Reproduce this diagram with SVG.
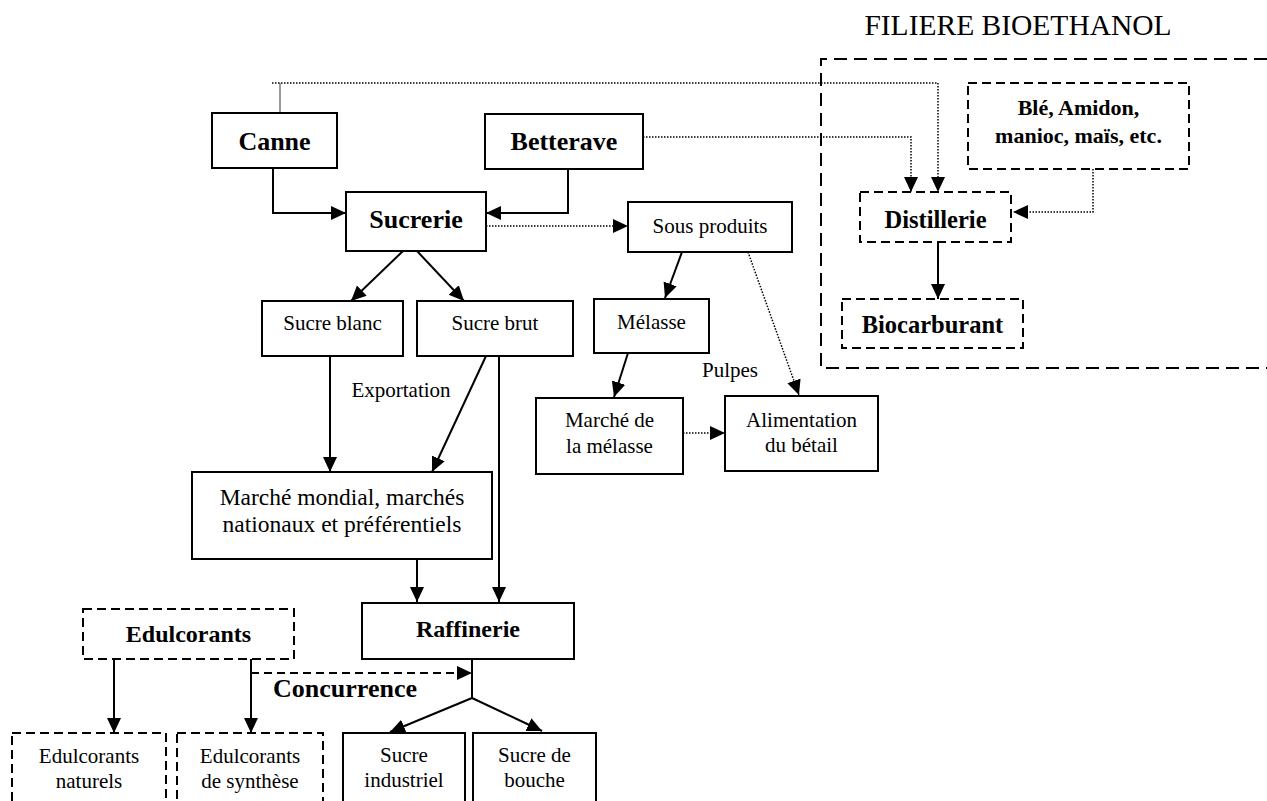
<svg xmlns="http://www.w3.org/2000/svg" width="1267" height="801" viewBox="0 0 1267 801">
<style>
.box{fill:#fff;stroke:#000;stroke-width:2}
.dbox{fill:#fff;stroke:#000;stroke-width:2;stroke-dasharray:9 5}
.t{font-family:"Liberation Serif","Times New Roman",serif;font-size:21px;fill:#000;text-anchor:middle}
.b{font-weight:bold}
.ln{fill:none;stroke:#000;stroke-width:2}
.dot{fill:none;stroke:#000;stroke-width:1.5;stroke-dasharray:1.5 1.5}
.dash{fill:none;stroke:#000;stroke-width:2;stroke-dasharray:8 5}
</style>
<defs>
<marker id="ah" markerUnits="userSpaceOnUse" markerWidth="16" markerHeight="16" viewBox="0 0 16 16" refX="15" refY="8" orient="auto"><path d="M0,1 L15,8 L0,15 Z" fill="#000"/></marker>
</defs>

<g id="region-bioethanol">
<path d="M1267,59 H821 V368 H1267" fill="none" stroke="#000" stroke-width="2" stroke-dasharray="13 7"/>
<text class="t" x="1018" y="35" style="font-size:29.5px">FILIERE BIOETHANOL</text>
</g>

<g id="connectors">
<path class="ln" d="M273,168 V213 H346" marker-end="url(#ah)"/>
<path class="ln" d="M568,169 V213 H486" marker-end="url(#ah)"/>
<path class="dot" d="M486,226 H628" marker-end="url(#ah)"/>
<path class="ln" d="M403,251 L351,301" marker-end="url(#ah)"/>
<path class="ln" d="M417,251 L464,301" marker-end="url(#ah)"/>
<path class="ln" d="M330,356 V472" marker-end="url(#ah)"/>
<path class="ln" d="M486,356 L432,472" marker-end="url(#ah)"/>
<path class="ln" d="M499,356 V602" marker-end="url(#ah)"/>
<path class="ln" d="M417,559 V602" marker-end="url(#ah)"/>
<path class="ln" d="M682,252 L665,298" marker-end="url(#ah)"/>
<path class="ln" d="M628,353 L614,397" marker-end="url(#ah)"/>
<path class="dot" d="M683,433 H725" marker-end="url(#ah)"/>
<path class="dot" d="M748,252 L799,395" marker-end="url(#ah)"/>
<path d="M280,113 V83" fill="none" stroke="#777" stroke-width="1.5"/>
<path class="dot" d="M272,83 H938 V192" marker-end="url(#ah)"/>
<path class="dot" d="M643,137 H911 V192" marker-end="url(#ah)"/>
<path class="dot" d="M1093,169 V212 H1013" marker-end="url(#ah)"/>
<path class="ln" d="M938,242 V299" marker-end="url(#ah)"/>
<path class="ln" d="M472,659 V698"/>
<path class="ln" d="M472,698 L390,732" marker-end="url(#ah)"/>
<path class="ln" d="M472,698 L542,731" marker-end="url(#ah)"/>
<path class="dash" d="M251,673 H472" marker-end="url(#ah)"/>
<path class="ln" d="M114,659 V733" marker-end="url(#ah)"/>
<path class="ln" d="M251,659 V733" marker-end="url(#ah)"/>
<text class="t" x="401" y="397">Exportation</text>
<text class="t" x="730" y="377">Pulpes</text>
<text class="t b" x="345" y="697" style="font-size:26px">Concurrence</text>
</g>

<g id="canne"><rect class="box" x="212" y="113" width="125" height="55"/><text class="t b" x="274.5" y="150" style="font-size:26px">Canne</text></g>
<g id="betterave"><rect class="box" x="485" y="114" width="158" height="55"/><text class="t b" x="564" y="150" style="font-size:26px">Betterave</text></g>
<g id="sucrerie"><rect class="box" x="346" y="192" width="140" height="59"/><text class="t b" x="416" y="228" style="font-size:26px">Sucrerie</text></g>
<g id="sous-produits"><rect class="box" x="628" y="202" width="164" height="50"/><text class="t" x="710" y="233">Sous produits</text></g>
<g id="ble"><rect class="dbox" x="968" y="83" width="221" height="86"/><text class="t b" x="1078.5" y="115" style="font-size:22px">Blé, Amidon,</text><text class="t b" x="1078.5" y="143" style="font-size:22px">manioc, maïs, etc.</text></g>
<g id="distillerie"><rect class="dbox" x="860" y="192" width="151" height="50"/><text class="t b" x="935.5" y="228" style="font-size:24.5px">Distillerie</text></g>
<g id="biocarburant"><rect class="dbox" x="842" y="299" width="181" height="49"/><text class="t b" x="932.5" y="333" style="font-size:24.5px">Biocarburant</text></g>
<g id="sucre-blanc"><rect class="box" x="262" y="301" width="141" height="55"/><text class="t" x="332.5" y="330">Sucre blanc</text></g>
<g id="sucre-brut"><rect class="box" x="417" y="301" width="156" height="55"/><text class="t" x="495" y="330">Sucre brut</text></g>
<g id="melasse"><rect class="box" x="594" y="299" width="115" height="54"/><text class="t" x="651.5" y="329">Mélasse</text></g>
<g id="marche-melasse"><rect class="box" x="536" y="398" width="147" height="76"/><text class="t" x="609.5" y="427">Marché de</text><text class="t" x="609.5" y="453">la mélasse</text></g>
<g id="alimentation"><rect class="box" x="725" y="396" width="153" height="75"/><text class="t" x="801.5" y="427">Alimentation</text><text class="t" x="801.5" y="452">du bétail</text></g>
<g id="marche-mondial"><rect class="box" x="192" y="472" width="300" height="87"/><text class="t" x="342" y="505" style="font-size:23.5px">Marché mondial, marchés</text><text class="t" x="342" y="532" style="font-size:23.5px">nationaux et préférentiels</text></g>
<g id="raffinerie"><rect class="box" x="362" y="603" width="212" height="56"/><text class="t b" x="468" y="637" style="font-size:24px">Raffinerie</text></g>
<g id="edulcorants"><rect class="dbox" x="83" y="609" width="211" height="50"/><text class="t b" x="188.5" y="642" style="font-size:24px">Edulcorants</text></g>
<g id="edulcorants-naturels"><rect class="dbox" x="12" y="733" width="154" height="90"/><text class="t" x="89" y="763">Edulcorants</text><text class="t" x="89" y="788">naturels</text></g>
<g id="edulcorants-synthese"><rect class="dbox" x="177" y="733" width="146" height="90"/><text class="t" x="250" y="763">Edulcorants</text><text class="t" x="250" y="788">de synthèse</text></g>
<g id="sucre-industriel"><rect class="box" x="343" y="733" width="122" height="90"/><text class="t" x="404" y="762">Sucre</text><text class="t" x="404" y="787">industriel</text></g>
<g id="sucre-bouche"><rect class="box" x="473" y="733" width="123" height="90"/><text class="t" x="534.5" y="762">Sucre de</text><text class="t" x="534.5" y="787">bouche</text></g>
</svg>
